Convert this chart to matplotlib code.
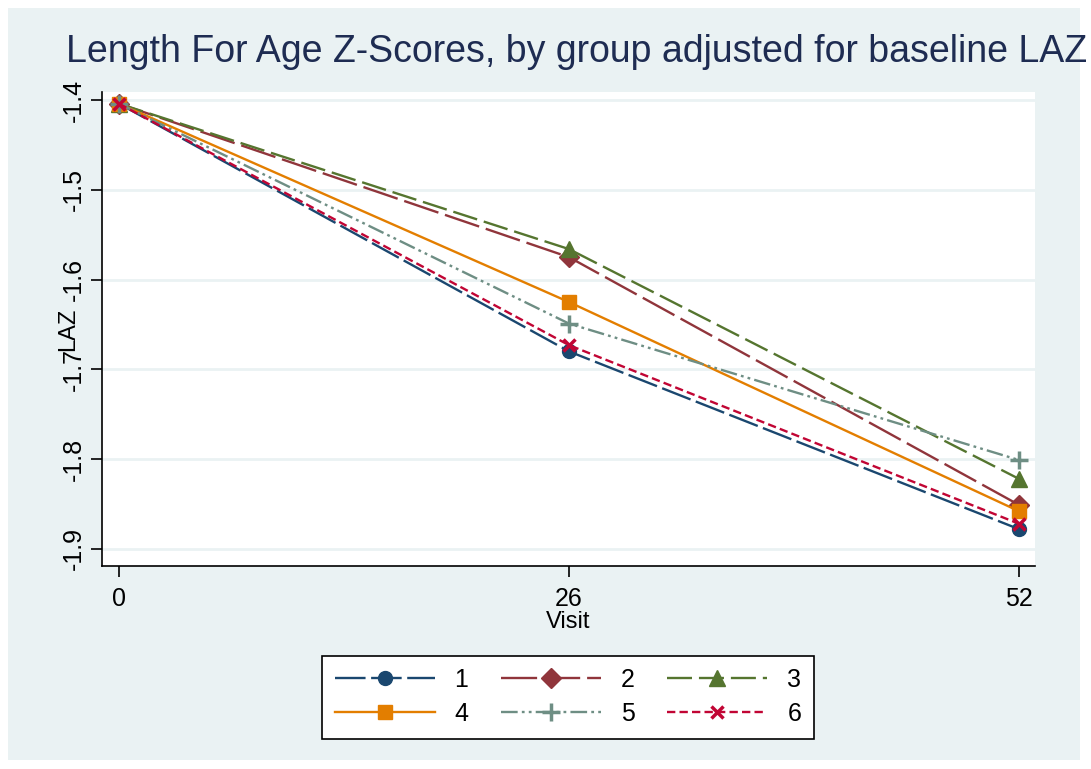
import matplotlib.pyplot as plt
from matplotlib.patches import Rectangle

plt.rcParams['font.family'] = ['Liberation Sans', 'DejaVu Sans']
plt.rcParams['lines.scale_dashes'] = False

# Datos
visits = [0, 26, 52]
grupos = ['1', '2', '3', '4', '5', '6']
laz = {
    '1': [-1.404, -1.680, -1.878],
    '2': [-1.404, -1.575, -1.851],
    '3': [-1.404, -1.566, -1.822],
    '4': [-1.404, -1.625, -1.858],
    '5': [-1.404, -1.649, -1.801],
    '6': [-1.404, -1.673, -1.872],
}
y_ticks = [-1.4, -1.5, -1.6, -1.7, -1.8, -1.9]
x_ticks = [0, 26, 52]

# Estilos (paleta s2color)
estilos = {
    '1': dict(color='#1a476f', marker='o', dashes=(22, 4), ms=10),
    '2': dict(color='#90353b', marker='D', dashes=(26, 5), ms=10),
    '3': dict(color='#55752f', marker='^', dashes=(18, 5), ms=11),
    '4': dict(color='#e37e00', marker='s', dashes=(), ms=10),
    '5': dict(color='#6e8e84', marker='+', dashes=(12, 3, 2, 3, 2, 3), ms=13),
    '6': dict(color='#c10534', marker='x', dashes=(6, 3), ms=9),
}

fig = plt.figure(figsize=(10.91, 7.69), dpi=100)
fig.patches.append(Rectangle((8 / 1091, 1 - 760 / 769), 1072 / 1091, 752 / 769,
                             transform=fig.transFigure, facecolor='#eaf2f3',
                             edgecolor='none', zorder=-10))

ax = fig.add_axes([102 / 1091, 1 - 566 / 769, 933 / 1091, 474 / 769])
ax.set_facecolor('white')

handles = {}
for g in grupos:
    e = estilos[g]
    ls = '-' if not e['dashes'] else (0, e['dashes'])
    h, = ax.plot(visits, laz[g], color=e['color'], marker=e['marker'],
                 linestyle=ls, linewidth=1.7, markersize=e['ms'],
                 markeredgewidth=2.5 if e['marker'] in '+x' else 1,
                 label=g)
    handles[g] = h

ax.set_xlim(-0.98, 52.92)
ax.set_ylim(-1.919, -1.391)
ax.set_xticks(x_ticks)
ax.set_yticks(y_ticks)
ax.set_yticklabels([str(v) for v in y_ticks], rotation=90, va='center')
ax.tick_params(axis='both', labelsize=18, length=8, width=1.2, direction='out')
ax.tick_params(axis='x', pad=7)
ax.grid(axis='y', color='#eaf2f3', linewidth=2)
ax.set_axisbelow(True)
for s in ['top', 'right']:
    ax.spines[s].set_visible(False)
ax.spines['left'].set_linewidth(1.2)
ax.spines['bottom'].set_linewidth(1.2)

ax.set_xlabel('Visit', fontsize=17, labelpad=0)
ax.set_ylabel('LAZ', fontsize=17, labelpad=-12)
fig.text(66 / 1091, 1 - 52 / 769, 'Length For Age Z-Scores, by group adjusted for baseline LAZ',
         fontsize=27, color='#1e2c52', va='center', ha='left')

# Leyenda (orden por filas)
orden = ['1', '4', '2', '5', '3', '6']
leg = fig.legend([handles[g] for g in orden], orden, ncol=3,
                 loc='center', bbox_to_anchor=(568 / 1091, 1 - 697 / 769),
                 fontsize=18, handlelength=4.0, handletextpad=0.8,
                 columnspacing=1.3, frameon=True, fancybox=False,
                 edgecolor='black', facecolor='white', framealpha=1,
                 borderpad=0.5, labelspacing=0.4)
leg.get_frame().set_linewidth(1.2)

plt.savefig('out.png', dpi=100)
